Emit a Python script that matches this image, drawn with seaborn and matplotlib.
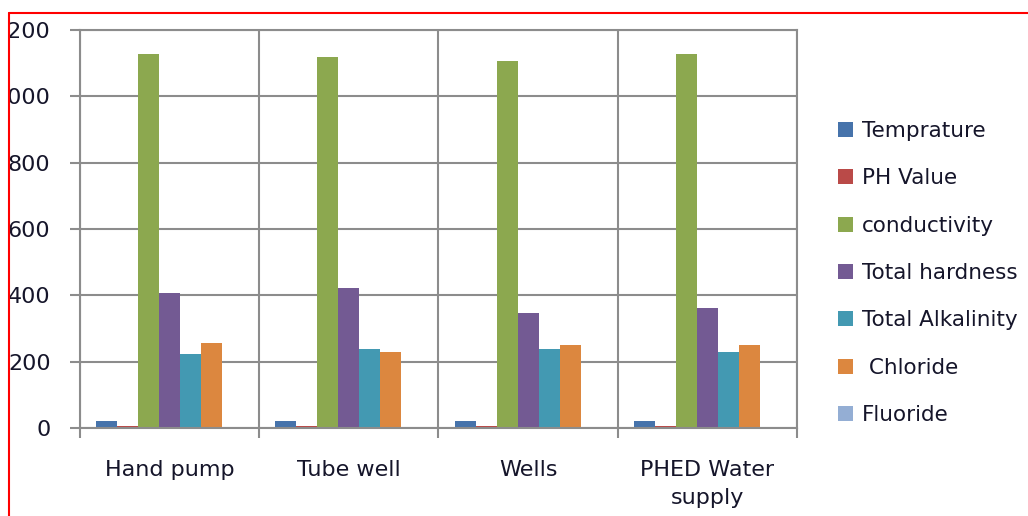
import matplotlib
matplotlib.use("Agg")
import matplotlib.pyplot as plt
from matplotlib.patches import Rectangle
from matplotlib.lines import Line2D
import pandas as pd
import seaborn as sns

# Water sources and measured parameters
sites = ["Hand pump", "Tube well", "Wells", "PHED Water\nsupply"]
parameters = ["Temprature", "PH Value", "conductivity", "Total hardness",
              "Total Alkalinity", " Chloride", "Fluoride"]

temperature = [22, 21, 21, 21]
ph_value = [7.5, 7.4, 7.3, 7.5]
conductivity = [1129, 1120, 1108, 1127]
total_hardness = [408, 423, 348, 362]
total_alkalinity = [223, 237, 237, 229]
chloride = [257, 230, 249, 249]
fluoride = [0.9, 1.0, 0.8, 0.9]

y_ticks = [0, 200, 400, 600, 800, 1000, 1200]

colors = ["#4673AB", "#BA4A48", "#8CA84F", "#735A93", "#4399B2", "#DC873F", "#94AED4"]

series = [temperature, ph_value, conductivity, total_hardness,
          total_alkalinity, chloride, fluoride]
rows = []
for name, vals in zip(parameters, series):
    for site, v in zip(sites, vals):
        rows.append({"site": site, "parameter": name, "value": v})
df = pd.DataFrame(rows)

sns.set_theme(style="white")
plt.rcParams["font.family"] = ["DejaVu Sans"]

W, H = 1028, 516
fig = plt.figure(figsize=(W / 100, H / 100), dpi=100)
ax = fig.add_axes([80 / W, 88 / H, 717 / W, 398 / H])

grid_c = "#8C8C8C"
text_c = "#15152A"

sns.barplot(data=df, x="site", y="value", hue="parameter", order=sites,
            hue_order=parameters, palette=colors, width=0.82, saturation=1,
            errorbar=None, linewidth=0, ax=ax)

ax.set_ylim(0, 1200)
ax.set_xlim(-0.5, len(sites) - 0.5)
ax.set_yticks(y_ticks)
ax.set_yticklabels([str(t) for t in y_ticks])
ax.set_xlabel("")
ax.set_ylabel("")
ax.set_axisbelow(True)

# horizontal gridlines + category separators
ax.yaxis.grid(True, color=grid_c, linewidth=1.5)
ax.set_xticks([i - 0.5 for i in range(len(sites) + 1)], minor=True)
ax.xaxis.grid(True, which="minor", color=grid_c, linewidth=1.5)
ax.xaxis.grid(False, which="major")

ax.tick_params(axis="y", which="major", length=7.2, width=1.5, color=grid_c,
               direction="out", pad=14, labelsize=16, labelcolor=text_c, left=True)
ax.tick_params(axis="x", which="major", length=0, pad=23, labelsize=16,
               labelcolor=text_c)
ax.tick_params(axis="x", which="minor", length=7.2, width=1.5, color=grid_c,
               direction="out", bottom=True)
for lbl in ax.get_xticklabels():
    lbl.set_linespacing(1.5)

for s in ax.spines.values():
    s.set_color(grid_c)
    s.set_linewidth(1.5)

# legend on the right
handles = [Rectangle((0, 0), 1, 1, facecolor=c, edgecolor="none") for c in colors]
if ax.get_legend() is not None:
    ax.get_legend().remove()
fig.legend(handles, parameters, loc="upper left",
           bbox_to_anchor=(838 / W, 1 - 121 / H), frameon=False,
           fontsize=15.5, handlelength=0.7, handleheight=0.7,
           handletextpad=0.4, labelspacing=1.27, borderpad=0,
           borderaxespad=0, labelcolor=text_c)

# frame around the figure
fig.patches.append(Rectangle((0, 0), 8 / W, 1, transform=fig.transFigure,
                             facecolor="white", edgecolor="none", zorder=10))
fig.lines.append(Line2D([9 / W, 9 / W], [0, 1 - 13 / H], transform=fig.transFigure,
                        color="#FF0000", linewidth=1.5, zorder=11))
fig.lines.append(Line2D([9 / W, 1], [1 - 13 / H, 1 - 13 / H], transform=fig.transFigure,
                        color="#FF0000", linewidth=1.5, zorder=11))

fig.savefig("out.png", dpi=100, facecolor="white")
